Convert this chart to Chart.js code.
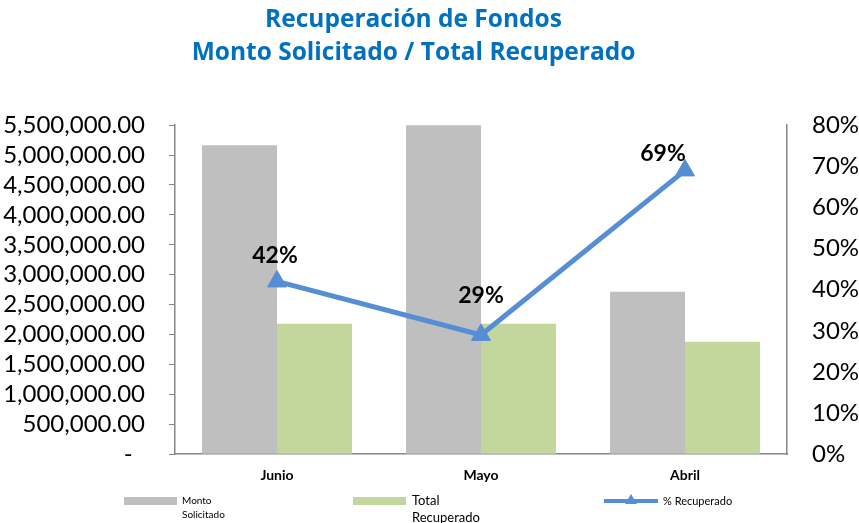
<!DOCTYPE html>
<html>
<head>
<meta charset="utf-8">
<script src="https://cdn.jsdelivr.net/npm/chart.js@4.4.0/dist/chart.umd.min.js"></script>
<style>
  html, body { margin: 0; padding: 0; background: #fff; }
</style>
</head>
<body>
<canvas id="myChart" width="859" height="523"></canvas>
<script>
// data
const categories = ['Junio', 'Mayo', 'Abril'];
const montoSolicitado = [5165000, 7520000, 2716000];
const totalRecuperado = [2180000, 2180000, 1878000];
const pctRecuperado = [0.42, 0.29, 0.69];
const seriesNames = ['Monto Solicitado', 'Total Recuperado', '% Recuperado'];

const GRAY = '#BFBFBF';
const GREEN = '#C3D69B';
const BLUE = '#558ED5';
const AXIS = '#868686';

Chart.defaults.font.family = 'Lato';
Chart.defaults.color = '#000';

const fmtMoney = v => v === 0 ? '-  ' :
  v.toLocaleString('en-US', { minimumFractionDigits: 2, maximumFractionDigits: 2 });

// percent labels over the line points
const pointLabels = {
  id: 'pointLabels',
  afterDatasetsDraw(chart, args, opts) {
    const meta = chart.getDatasetMeta(2);
    const ctx = chart.ctx;
    ctx.save();
    ctx.font = 'bold 23px Lato';
    ctx.fillStyle = '#000';
    ctx.textAlign = 'center';
    ctx.textBaseline = 'middle';
    meta.data.forEach((pt, i) => {
      const off = opts.offsets[i] || [0, -28];
      ctx.fillText(Math.round(pctRecuperado[i] * 100) + '%', pt.x + off[0], pt.y + off[1]);
    });
    ctx.restore();
  }
};

// legend drawn by hand so the labels can wrap like the original
const wrapLegend = {
  id: 'wrapLegend',
  afterDraw(chart) {
    const ctx = chart.ctx;
    ctx.save();
    ctx.textAlign = 'left';
    ctx.textBaseline = 'middle';
    ctx.fillStyle = GRAY;
    ctx.fillRect(124, 497, 53, 8);
    ctx.fillStyle = GREEN;
    ctx.fillRect(353, 497, 53, 8);

    ctx.strokeStyle = BLUE;
    ctx.lineWidth = 4;
    ctx.beginPath();
    ctx.moveTo(604, 501);
    ctx.lineTo(658, 501);
    ctx.stroke();
    ctx.fillStyle = BLUE;
    ctx.beginPath();
    ctx.moveTo(631, 494);
    ctx.lineTo(637, 504);
    ctx.lineTo(625, 504);
    ctx.closePath();
    ctx.fill();

    ctx.fillStyle = '#000';
    const n1 = seriesNames[0].split(' ');
    ctx.font = '10px Lato';
    ctx.fillText(n1[0], 182, 501);
    ctx.fillText(n1[1], 182, 515);
    const n2 = seriesNames[1].split(' ');
    ctx.font = '13px Lato';
    ctx.fillText(n2[0], 412, 501);
    ctx.fillText(n2[1], 412, 518);
    ctx.font = '11px Lato';
    ctx.fillText(seriesNames[2], 663, 501);
    ctx.restore();
  }
};

const ctx = document.getElementById('myChart').getContext('2d');
const myChart = new Chart(ctx, {
  type: 'bar',
  data: {
    labels: categories,
    datasets: [
      {
        label: seriesNames[0],
        data: montoSolicitado,
        backgroundColor: GRAY,
        yAxisID: 'y',
        order: 2
      },
      {
        label: seriesNames[1],
        data: totalRecuperado,
        backgroundColor: GREEN,
        yAxisID: 'y',
        order: 2
      },
      {
        type: 'line',
        label: seriesNames[2],
        data: pctRecuperado,
        yAxisID: 'y1',
        borderColor: BLUE,
        backgroundColor: BLUE,
        borderWidth: 5,
        pointStyle: 'triangle',
        pointRadius: 11,
        pointBorderWidth: 1,
        pointBackgroundColor: BLUE,
        pointBorderColor: BLUE,
        tension: 0,
        order: 0
      }
    ]
  },
  options: {
    responsive: false,
    animation: false,
    datasets: {
      bar: { categoryPercentage: 0.735, barPercentage: 1.0 }
    },
    // negative left padding shifts the centred title left, as in the original
    layout: { padding: { left: -32, right: 0, top: 0, bottom: 26 } },
    plugins: {
      legend: { display: false },
      tooltip: { enabled: false },
      title: {
        display: true,
        text: ['Recuperación de Fondos', 'Monto Solicitado / Total Recuperado'],
        color: '#0070C0',
        font: { family: 'Open Sans', size: 24.5, weight: 'bold', lineHeight: 1.35 },
        padding: { top: 3, bottom: 56 }
      },
      pointLabels: { offsets: [[-2, -26], [0, -39], [-22, -17]] }
    },
    scales: {
      x: {
        grid: { display: true, drawOnChartArea: false, drawTicks: false },
        border: { color: AXIS, width: 1.5 },
        ticks: { font: { size: 14, weight: 'bold' }, color: '#000', padding: 13 }
      },
      y: {
        position: 'left',
        min: 0,
        max: 5500000,
        afterFit: s => { s.width = 207; },
        ticks: {
          stepSize: 500000,
          autoSkip: false,
          font: { size: 24 },
          color: '#000',
          padding: 24,
          callback: v => fmtMoney(v)
        },
        grid: { drawOnChartArea: false, drawTicks: true, tickLength: 6, color: AXIS },
        border: { color: AXIS, width: 1.5 }
      },
      y1: {
        position: 'right',
        min: 0,
        max: 0.8,
        afterFit: s => { s.width = 72; },
        ticks: {
          stepSize: 0.1,
          autoSkip: false,
          font: { size: 24 },
          color: '#000',
          padding: 25,
          callback: v => Math.round(v * 100) + '%'
        },
        grid: { drawOnChartArea: false, drawTicks: false },
        border: { color: AXIS, width: 1.5 }
      }
    }
  },
  plugins: [pointLabels, wrapLegend]
});
</script>
</body>
</html>
